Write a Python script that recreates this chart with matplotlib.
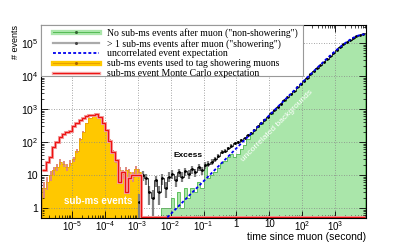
import numpy as np
import matplotlib
matplotlib.use('Agg')
from matplotlib import pyplot as plt
from matplotlib.lines import Line2D
from matplotlib.patches import Rectangle
from matplotlib.legend_handler import HandlerTuple

plt.rcParams['font.family'] = 'Liberation Sans'
plt.rcParams['mathtext.fontset'] = 'custom'
plt.rcParams['mathtext.rm'] = 'Liberation Sans'
plt.rcParams['mathtext.it'] = 'Liberation Sans'

# histogram bins are 0.1 decade wide in log10(time); each series has its first edge
tag_start = -5.9   # sub-ms events used to tag showering muons
tag_counts = [4, 6, 10, 14, 18, 25, 22, 18, 24, 30, 55, 120, 200, 370, 520,
              640, 670, 560, 380, 230, 110, 50, 28, 14, 11, 14, 12, 9, 15, 12]

mc_start = -5.9    # sub-ms event Monte Carlo expectation (zero after 1 ms)
mc_counts = [14, 25, 35, 70, 100, 140, 170, 200, 220, 300, 380, 460, 540, 620, 660,
             680, 690, 580, 380, 230, 110, 50, 28, 6, 12, 3, 8, 10, 10, 10]
mc_end = 3.9

show_start = -3.0  # > 1 sub-ms events after muon ("showering")
show_counts = [1.5, 10, 8, 3, 2, 7, 3, 8, 4, 9, 11, 7, 12, 9, 13, 11, 15, 12, 17, 14,
               20, 22, 25, 30, 38, 50, 55, 65, 78, 92,
               100, 115, 135, 160, 195, 240, 300, 375, 470, 590, 740, 930, 1170, 1470,
               1840, 2310, 2900, 3650, 4580, 5750, 7200, 9050, 11300, 14200, 17700,
               22100, 27500, 34100, 42100, 51800, 63300, 76800, 92200, 109400, 127900,
               146600, 164000, 178000, 186000]

nonshow_start = -2.3  # No sub-ms events after muon ("non-showering")
nonshow_counts = [1, 1, 1, 2, 1, 3, 1, 4, 2, 4, 3, 6, 4, 22, 8, 10, 12, 16, 24,
                  26, 35, 45, 35, 45, 60, 80, 120, 170, 231, 290, 366, 460, 579, 728,
                  917, 1151, 1448, 1822, 2292, 2881, 3621, 4548, 5711, 7167, 8999,
                  11276, 14112, 17634, 21993, 27363, 33941, 41939, 51572, 63033, 76449,
                  91824, 108992, 127377, 146042, 163429, 177364, 185262]

# uncorrelated event expectation
uncorr_time = [10**-2.1, 0.1, 1, 10, 100, 10**2.5, 10**2.75, 1000, 10**3.25,
               10**3.5, 10**3.65, 10**3.8, 10**3.94]
uncorr_counts = [0.52, 6.5, 65, 650, 6420, 19700, 33900, 57200, 91800,
                 137000, 163000, 182000, 185000]

xticks = [1e-5, 1e-4, 1e-3, 1e-2, 1e-1, 1, 10, 1e2, 1e3]
xticklabels = ['$10^{-5}$', '$10^{-4}$', '$10^{-3}$', '$10^{-2}$', '$10^{-1}$',
               '1', '10', '$10^{2}$', '$10^{3}$']
yticks = [1, 10, 1e2, 1e3, 1e4, 1e5]
yticklabels = ['1', '10', '$10^{2}$', '$10^{3}$', '$10^{4}$', '$10^{5}$']

ylo, yhi = 0.5, 10**5.55
xlo, xhi = 10**-5.94, 10**3.94


def edges_for(start, n):
    return 10 ** (start + 0.1 * np.arange(n + 1))


def centers_for(start, n):
    return 10 ** (start + 0.05 + 0.1 * np.arange(n))


fig = plt.figure(figsize=(4.07, 2.42), dpi=100)
ax = fig.add_axes([41 / 407, 1 - 218 / 242, 325 / 407, 193 / 242])
ax.set_xscale('log')
ax.set_yscale('log')

# green non-showering histogram
g = np.array(nonshow_counts, float)
ge = edges_for(nonshow_start, len(g))
ax.stairs(g, ge, baseline=ylo, fill=True, color='#aae6aa', zorder=1)
ax.stairs(g, ge, baseline=ylo, color='#55bb55', lw=0.6, zorder=2)

# showering histogram with grey error boxes
s = np.array(show_counts, float)
se = edges_for(show_start, len(s))
sc = centers_for(show_start, len(s))
ax.errorbar(sc, s, yerr=np.sqrt(s), fmt='none', ecolor='#808080', elinewidth=1.6,
            capsize=0, zorder=3)
ax.stairs(s, se, baseline=None, color='#222222', lw=0.6, zorder=4)
ax.plot(sc, s, 'o', color='black', ms=1.0, zorder=4)

# tag histogram (gold)
t = np.array(tag_counts, float)
te = edges_for(tag_start, len(t))
tc = centers_for(tag_start, len(t))
ax.stairs(t, te, baseline=ylo, fill=True, color='#ffc800', zorder=2)
ax.errorbar(tc, t, yerr=np.sqrt(t), fmt='none', ecolor='#e08a80', elinewidth=1.4,
            capsize=0, zorder=3)
ax.stairs(t, te, baseline=ylo, color='#e8a000', lw=0.5, zorder=3)

# Monte Carlo expectation (red), zero after the sub-ms range
n_mc = int(round((mc_end - mc_start) / 0.1))
m = np.zeros(n_mc)
m[:len(mc_counts)] = mc_counts
me = edges_for(mc_start, n_mc)
ax.stairs(np.clip(m, ylo * 1.04, None), me, baseline=None, color='#f4a0a0', lw=2.2, zorder=5)
ax.stairs(np.clip(m, ylo * 1.04, None), me, baseline=None, color='#ee1111', lw=0.9, zorder=6)

# uncorrelated expectation
ax.plot(uncorr_time, uncorr_counts, color='#0000ee', lw=1.3, ls=(0, (1.6, 1.2)), zorder=7)

ax.set_xlim(xlo, xhi)
ax.set_ylim(ylo, yhi)
ax.set_xticks(xticks)
ax.set_xticklabels(xticklabels, fontsize=7)
ax.set_yticks(yticks)
ax.set_yticklabels(yticklabels, fontsize=7.5)
ax.tick_params(which='both', direction='in', top=True, right=True)
ax.tick_params(which='major', length=5, width=0.6, pad=2)
ax.tick_params(axis='x', which='major', pad=1)
ax.tick_params(which='minor', length=2.5, width=0.5)
ax.xaxis.set_minor_locator(matplotlib.ticker.LogLocator(base=10, subs=np.arange(2, 10), numticks=20))
ax.yaxis.set_minor_locator(matplotlib.ticker.LogLocator(base=10, subs=np.arange(2, 10), numticks=20))
ax.xaxis.set_minor_formatter(matplotlib.ticker.NullFormatter())
ax.yaxis.set_minor_formatter(matplotlib.ticker.NullFormatter())
ax.grid(True, which='major', ls=(0, (1, 2)), color='#888888', lw=0.6, zorder=8)
ax.set_axisbelow(False)
for sp in ax.spines.values():
    sp.set_linewidth(0.8)
    sp.set_zorder(9)

ax.set_xlabel('time since muon (second)', fontsize=7.5, loc='right', va='bottom')
ax.xaxis.set_label_coords(1.0, -0.123)
ax.set_ylabel('# events', fontsize=6.5, loc='top')
ax.yaxis.set_label_coords(-0.066, 1.0)

# annotations
ax.text(10**-4.21, 1.6, 'sub-ms events', color='white', fontsize=7, fontweight='bold',
        ha='center', va='center', zorder=10)
ax.text(10**-1.47, 38, 'Excess', color='black', fontsize=6, fontweight='bold',
        ha='center', va='center', zorder=10)
ax.text(10**1.25, 10**2.5, 'uncorrelated backgrounds', color='white', fontsize=6,
        rotation=45, ha='center', va='center', zorder=10)

# legend: frame drawn as a box, entries placed inside it
ax.add_patch(Rectangle((0, 1 - 0.264), 0.806, 0.264, transform=ax.transAxes,
                       facecolor='white', edgecolor='#999999', lw=0.8, zorder=10))
dot = dict(ls='', marker='o', ms=1.2)
handles = [
    (Line2D([], [], color='#aae6aa', lw=3.8), Line2D([], [], color='#55bb55', lw=0.7),
     Line2D([], [], color='#336633', **dot)),
    (Line2D([], [], color='#aaaaaa', lw=1.6), Line2D([], [], color='#444444', **dot)),
    (Line2D([], [], color='#0000ee', lw=1.3, ls=(0, (1.6, 1.2))),),
    (Line2D([], [], color='#ffc800', lw=3.8), Line2D([], [], color='#e8a000', lw=0.7),
     Line2D([], [], color='#aa6600', **dot)),
    (Line2D([], [], color='#f4a0a0', lw=2.4), Line2D([], [], color='#ee1111', lw=0.7)),
]
labels = ['No sub-ms events after muon ("non-showering")',
          '> 1 sub-ms events after muon ("showering")',
          'uncorrelated event expectation',
          'sub-ms events used to tag showering muons',
          'sub-ms event Monte Carlo expectation']
leg = ax.legend(handles, labels, handler_map={tuple: HandlerTuple(ndivide=1, pad=0)},
                loc='upper left', bbox_to_anchor=(10 / 325, 1 - 1 / 193),
                borderaxespad=0, frameon=False,
                prop={'family': 'Liberation Serif', 'size': 7}, handlelength=4.7,
                labelspacing=0.08, borderpad=0.2, handletextpad=0.9)
leg.set_zorder(11)

plt.savefig('out.png', dpi=100)
